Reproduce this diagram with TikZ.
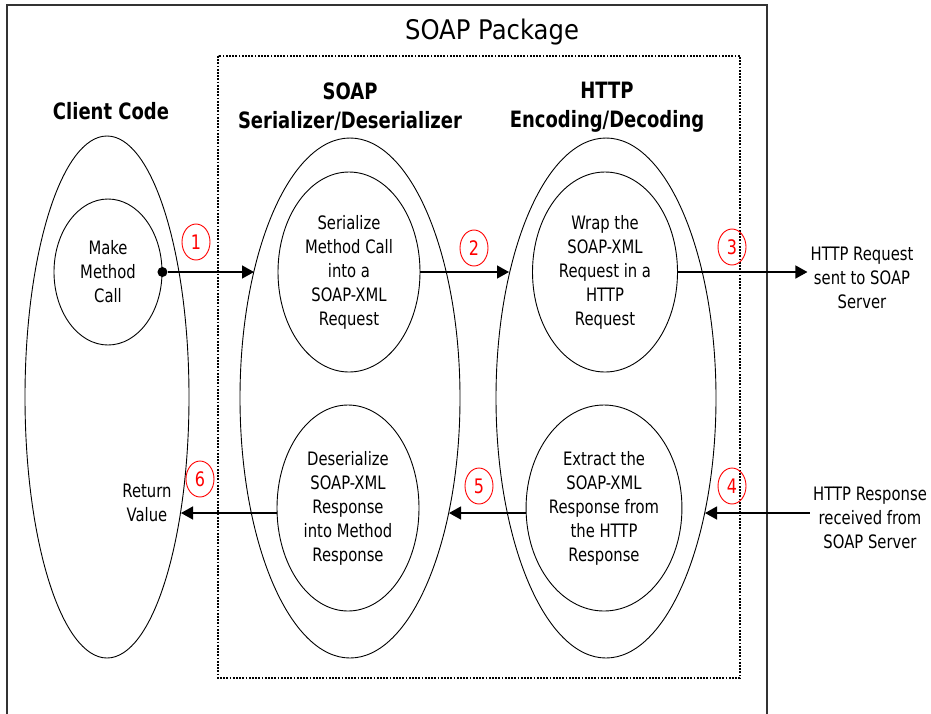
\documentclass[tikz,border=0pt]{standalone}
\usepackage{fontspec}
\setmainfont{DejaVu Sans}[FakeStretch=0.8]
\newfontfamily\pkgfont{DejaVu Sans}[FakeStretch=0.9]
\usetikzlibrary{shapes.geometric,arrows.meta}
\begin{document}
\begin{tikzpicture}[x=1pt,y=-1pt,
  oval/.style={draw, ellipse, line width=0.9pt, inner sep=0pt, align=center,
               font=\fontsize{18.5}{24}\selectfont},
  lbl/.style={font=\fontsize{18.5}{24}\selectfont, align=center, inner sep=3pt},
  head/.style={font=\fontsize{22.5}{29}\selectfont\bfseries, align=center, inner sep=0pt},
  num/.style={draw=red, ellipse, line width=0.9pt, minimum width=28pt, minimum height=36pt,
              inner sep=0pt, text=red, font=\fontsize{20}{22}\selectfont},
  flow/.style={line width=1.4pt, -{Triangle[length=12pt,width=13pt]}},
  frame/.style={draw=black!80, line width=1.2pt},
  pkg/.style={line width=2.2pt, dash pattern=on 1.8pt off 1.4pt}
]
\useasboundingbox (0,0) rectangle (931,713);
\fill[white] (0,0) rectangle (931,713);

% SOAP package frame (open at the bottom edge of the picture)
\draw[frame] (7,730) -- (7,5) -- (767,5) -- (767,730);
\node[font=\pkgfont\fontsize{27}{30}\selectfont, inner sep=0pt] (pkgtitle) at (492,32) {SOAP Package};

% dotted inner package
\draw[pkg] (218,56) rectangle (740,678);

% headings
\node[head] (hclient) at (111,111) {Client Code};
\node[head] (hser) at (350,107) {SOAP\\Serializer/Deserializer};
\node[head] (hhttp) at (607,107) {HTTP\\Encoding/Decoding};

% big ovals
\node[oval, minimum width=164pt, minimum height=522pt] (client) at (107,397) {};
\node[oval, minimum width=220pt, minimum height=520pt] (serial) at (350,398) {};
\node[oval, minimum width=220pt, minimum height=520pt] (http) at (606,398) {};

% inner ovals
\node[oval, minimum width=108pt, minimum height=146pt] (make) at (108,272) {Make\\Method\\Call};
\node[oval, minimum width=142pt, minimum height=200pt] (ser) at (349,272)
  {Serialize\\Method Call\\into a\\SOAP-XML\\Request};
\node[oval, minimum width=145pt, minimum height=200pt] (wrap) at (605,272)
  {Wrap the\\SOAP-XML\\Request in a\\HTTP\\Request};
\node[oval, minimum width=142pt, minimum height=206pt] (deser) at (348,508)
  {Deserialize\\SOAP-XML\\Response\\into Method\\Response};
\node[oval, minimum width=142pt, minimum height=206pt] (extract) at (604,508)
  {Extract the\\SOAP-XML\\Response from\\the HTTP\\Response};

% outside texts
\node[lbl] (req) at (862,278) {HTTP Request\\sent to SOAP\\Server};
\node[lbl] (resp) at (870,518) {HTTP Response\\received from\\SOAP Server};
\node[lbl] (ret) at (147,503) {Return\\Value};

% arrow end points on the big ovals
\coordinate (t1) at (254,272);
\coordinate (t2) at (509,272);
\coordinate (t4) at (705,513);
\coordinate (t5) at (449,513);
\coordinate (t6) at (181,513);

% connectors
\node[circle, fill, inner sep=0pt, minimum size=10pt] (dot) at (make.east) {};
\draw[flow] (dot) -- (t1);
\draw[flow] (ser.east) -- (t2);
\draw[flow] (wrap.east) -- (req.west |- wrap.east);
\draw[flow] (resp.west |- t4) -- (t4);
\draw[flow] ([yshift=-5pt]extract.west) -- (t5);
\draw[flow] ([yshift=-5pt]deser.west) -- (t6);

% step numbers
\node[num] (n1) at (196,242) {1};
\node[num] (n2) at (474,248) {2};
\node[num] (n3) at (732,247) {3};
\node[num] (n4) at (732,486) {4};
\node[num] (n5) at (479,486) {5};
\node[num] (n6) at (200,479) {6};
\end{tikzpicture}
\end{document}
